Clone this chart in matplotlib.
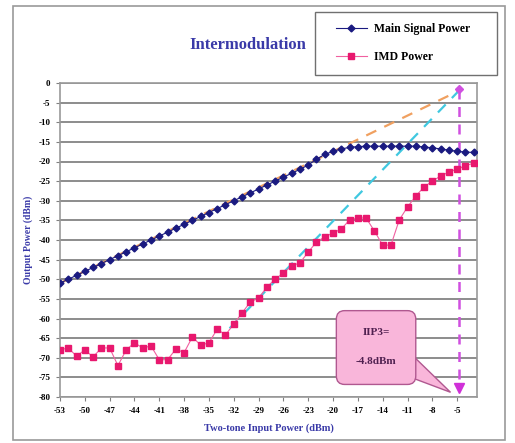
import matplotlib
matplotlib.use("Agg")
import matplotlib.pyplot as plt
from matplotlib.patches import FancyBboxPatch, Polygon, Rectangle

# input power sweep (dBm), one point per dB
input_power = list(range(-53, -2))

main_power = [-51.0, -50.0, -49.0, -48.0, -47.0, -46.0, -45.0, -44.0, -43.0, -42.0,
              -41.0, -40.0, -39.0, -38.0, -37.0, -36.0, -35.0, -34.0, -33.0, -32.0,
              -31.0, -30.0, -29.0, -28.0, -27.0, -26.0, -25.0, -24.0, -23.0, -22.0,
              -20.9, -19.4, -18.2, -17.4, -16.8, -16.4, -16.2, -16.1, -16.1, -16.1,
              -16.1, -16.1, -16.1, -16.1, -16.3, -16.5, -16.8, -17.1, -17.4, -17.6,
              -17.7]

imd_power = [-68.0, -67.5, -69.6, -68.0, -69.8, -67.5, -67.5, -72.0, -68.0, -66.2,
             -67.5, -67.0, -70.5, -70.5, -67.8, -68.7, -64.7, -66.8, -66.2, -62.7,
             -64.2, -61.4, -58.6, -55.8, -54.8, -52.0, -50.0, -48.4, -46.6, -45.8,
             -43.1, -40.5, -39.2, -38.2, -37.2, -34.9, -34.4, -34.4, -37.7, -41.3,
             -41.3, -34.9, -31.6, -28.8, -26.5, -25.0, -23.7, -22.7, -21.9, -21.1,
             -20.4]

# extrapolated fundamental / third-order lines meeting at the intercept
iip3 = -4.8
oip3 = -2.0
fund_x = [-53, iip3]
fund_y = [-51.0, oip3]
im3_x = [-32.5, iip3]
im3_y = [-62.5, oip3]

xticks = list(range(-53, -4, 3))
yticks = list(range(-80, 1, 5))

serif = ["Liberation Serif", "DejaVu Serif"]
blue_txt = "#3a3aa8"

fig = plt.figure(figsize=(5.15, 4.43), dpi=100)
fig.patch.set_facecolor("white")

# outer chart frame
fig.patches.append(Rectangle((13 / 515, 3 / 443), 492 / 515, 434 / 443,
                             transform=fig.transFigure, fill=False,
                             ec="#9a9a9a", lw=1.2))
# legend frame, drawn separately so the side padding can be wider
fig.patches.append(Rectangle((315 / 515, 1 - 75 / 443), 182 / 515, 63 / 443,
                             transform=fig.transFigure, fc="white",
                             ec="#707070", lw=1.0, zorder=8))

ax = fig.add_axes([60 / 515, 46 / 443, 417 / 515, 314 / 443])
ax.set_xlim(-53, -2.6)
ax.set_ylim(-80, 0)

ax.set_yticks(yticks)
ax.set_xticks(xticks)
ax.set_yticklabels([str(t) for t in yticks], fontsize=6.5, family=serif, fontweight="bold")
ax.set_xticklabels([str(t) for t in xticks], fontsize=6.5, family=serif, fontweight="bold")
ax.tick_params(axis="both", length=3, color="#808080", pad=4)
ax.grid(axis="y", color="#8c8c8c", lw=1.4)
ax.set_axisbelow(True)
for s in ax.spines.values():
    s.set_color("#9a9a9a")
    s.set_linewidth(1.2)

ax.plot(fund_x, fund_y, ls=(0, (5, 4)), color="#f0a060", lw=1.6, zorder=2)
ax.plot(im3_x, im3_y, ls=(0, (5, 4)), color="#40c8e0", lw=1.6, zorder=2)

ax.plot(input_power, main_power, color="#1a1a80", lw=0.8, marker="D", ms=3.5,
        mfc="#1a1a80", mec="#1a1a80", label="Main Signal Power", zorder=4)
ax.plot(input_power, imd_power, color="#f060a0", lw=0.8, marker="s", ms=4.5,
        mfc="#e8186e", mec="#e8186e", label="IMD Power", zorder=4)

# vertical marker at the intercept point
ax.plot([iip3, iip3], [oip3 + 0.5, -77.5], ls=(0, (4, 3)), color="#d050e0", lw=1.8, zorder=3)
ax.plot([iip3], [oip3 + 0.5], marker="D", ms=4, color="#d050e0", zorder=5)
ax.plot([iip3], [-77.8], marker="v", ms=7, color="#d030d8", zorder=5)

# callout box with pointer
box = FancyBboxPatch((-19.6, -76.8), 9.6, 18.8, boxstyle="round,pad=0,rounding_size=1.0",
                     mutation_aspect=2.2, fc="#f9b6da", ec="#b05890", lw=1.0, zorder=6)
ax.add_patch(box)
tail = Polygon([(-10.1, -70.0), (-10.6, -75.0), (-5.8, -78.8)], closed=True,
               fc="#f9b6da", ec="#b05890", lw=1.0, zorder=5)
ax.add_patch(tail)
ax.text(-14.8, -63.5, "IIP3=", ha="center", va="center", fontsize=8,
        family=serif, fontweight="bold", color="#502050", zorder=7)
ax.text(-14.8, -71.0, "-4.8dBm", ha="center", va="center", fontsize=8,
        family=serif, fontweight="bold", color="#502050", zorder=7)

ax.set_xlabel("Two-tone Input Power (dBm)", fontsize=7.5, family=serif,
              fontweight="bold", color=blue_txt, labelpad=6)
ax.set_ylabel("Output Power (dBm)", fontsize=7, family=serif,
              fontweight="bold", color=blue_txt, labelpad=4)

fig.text(248 / 515, 1 - 45 / 443, "Intermodulation", ha="center", va="center",
         fontsize=12, family=serif, fontweight="bold", color=blue_txt)

leg = fig.legend(loc="upper left", bbox_to_anchor=(336 / 515, 1 - 23 / 443),
                 bbox_transform=fig.transFigure, prop={"family": serif, "weight": "bold", "size": 8.5},
                 frameon=False, labelspacing=1.35, handlelength=2.6, borderpad=0,
                 borderaxespad=0, handletextpad=0.6)
leg.set_zorder(9)

fig.savefig("out.png", dpi=100)
